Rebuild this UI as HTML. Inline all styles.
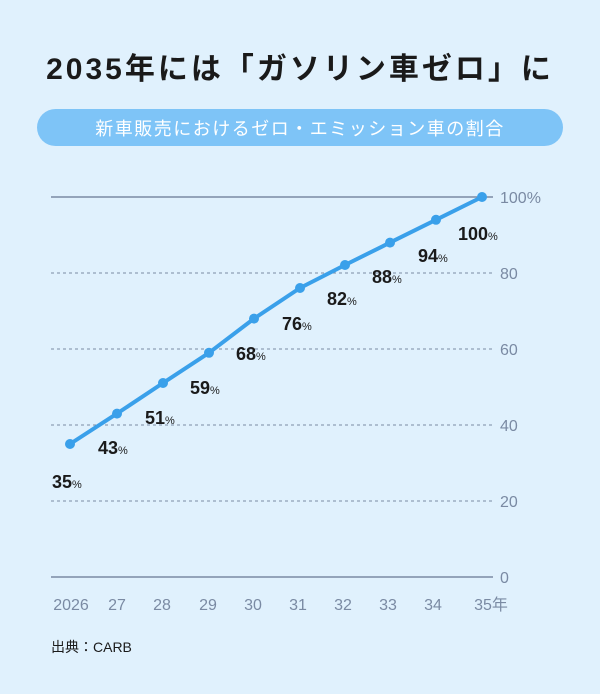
<!DOCTYPE html>
<html><head><meta charset="utf-8"><style>
html,body{margin:0;padding:0;background:#e0f1fd;}
svg{display:block;}
</style></head><body>
<svg width="600" height="694" viewBox="0 0 600 694" xmlns="http://www.w3.org/2000/svg" font-family="'Liberation Sans','Noto Sans CJK JP',sans-serif">
<rect width="600" height="694" fill="#e0f1fd"/>
<text x="300" y="79" text-anchor="middle" font-size="30" font-weight="bold" fill="#1a1a1a" letter-spacing="3">2035年には「ガソリン車ゼロ」に</text>
<rect x="37" y="109" width="526" height="37" rx="18.5" fill="#7ec4f7"/>
<text x="300" y="135" text-anchor="middle" font-size="18" fill="#fff" letter-spacing="1.5">新車販売におけるゼロ・エミッション車の割合</text>
<g stroke="#7a8aa3" stroke-width="1">
<line x1="51" y1="197" x2="493" y2="197" stroke-width="1.5"/>
<line x1="51" y1="273" x2="493" y2="273" stroke-dasharray="3,3"/>
<line x1="51" y1="349" x2="493" y2="349" stroke-dasharray="3,3"/>
<line x1="51" y1="425" x2="493" y2="425" stroke-dasharray="3,3"/>
<line x1="51" y1="501" x2="493" y2="501" stroke-dasharray="3,3"/>
<line x1="51" y1="577" x2="493" y2="577" stroke-width="1.5"/>
</g>
<g font-size="16" fill="#7a8aa3">
<text x="500" y="203">100%</text>
<text x="500" y="279">80</text>
<text x="500" y="355">60</text>
<text x="500" y="431">40</text>
<text x="500" y="507">20</text>
<text x="500" y="583">0</text>
</g>
<g font-size="16" fill="#7a8aa3" text-anchor="middle">
<text x="71" y="610">2026</text>
<text x="117" y="610">27</text>
<text x="162" y="610">28</text>
<text x="208" y="610">29</text>
<text x="253" y="610">30</text>
<text x="298" y="610">31</text>
<text x="343" y="610">32</text>
<text x="388" y="610">33</text>
<text x="433" y="610">34</text>
<text x="491" y="610">35年</text>
</g>
<polyline fill="none" stroke="#3aa0ea" stroke-width="4" stroke-linejoin="round" points="70,444 117,413.6 163,383 209,352.8 254,318.6 300,288 345,265 390,242.6 436,219.8 482,197"/>
<g fill="#3aa0ea">
<circle cx="70" cy="444" r="5"/><circle cx="117" cy="413.6" r="5"/><circle cx="163" cy="383" r="5"/><circle cx="209" cy="352.8" r="5"/><circle cx="254" cy="318.6" r="5"/><circle cx="300" cy="288" r="5"/><circle cx="345" cy="265" r="5"/><circle cx="390" cy="242.6" r="5"/><circle cx="436" cy="219.8" r="5"/><circle cx="482" cy="197" r="5"/>
</g>
<g font-size="18" font-weight="bold" fill="#1a1a1a">
<text x="52" y="488">35<tspan font-size="11" font-weight="normal">%</tspan></text>
<text x="98" y="454">43<tspan font-size="11" font-weight="normal">%</tspan></text>
<text x="145" y="424">51<tspan font-size="11" font-weight="normal">%</tspan></text>
<text x="190" y="394">59<tspan font-size="11" font-weight="normal">%</tspan></text>
<text x="236" y="360">68<tspan font-size="11" font-weight="normal">%</tspan></text>
<text x="282" y="330">76<tspan font-size="11" font-weight="normal">%</tspan></text>
<text x="327" y="305">82<tspan font-size="11" font-weight="normal">%</tspan></text>
<text x="372" y="283">88<tspan font-size="11" font-weight="normal">%</tspan></text>
<text x="418" y="262">94<tspan font-size="11" font-weight="normal">%</tspan></text>
<text x="458" y="240">100<tspan font-size="11" font-weight="normal">%</tspan></text>
</g>
<text x="51" y="652" font-size="14" fill="#1a1a1a">出典：CARB</text>
</svg>
</body></html>
